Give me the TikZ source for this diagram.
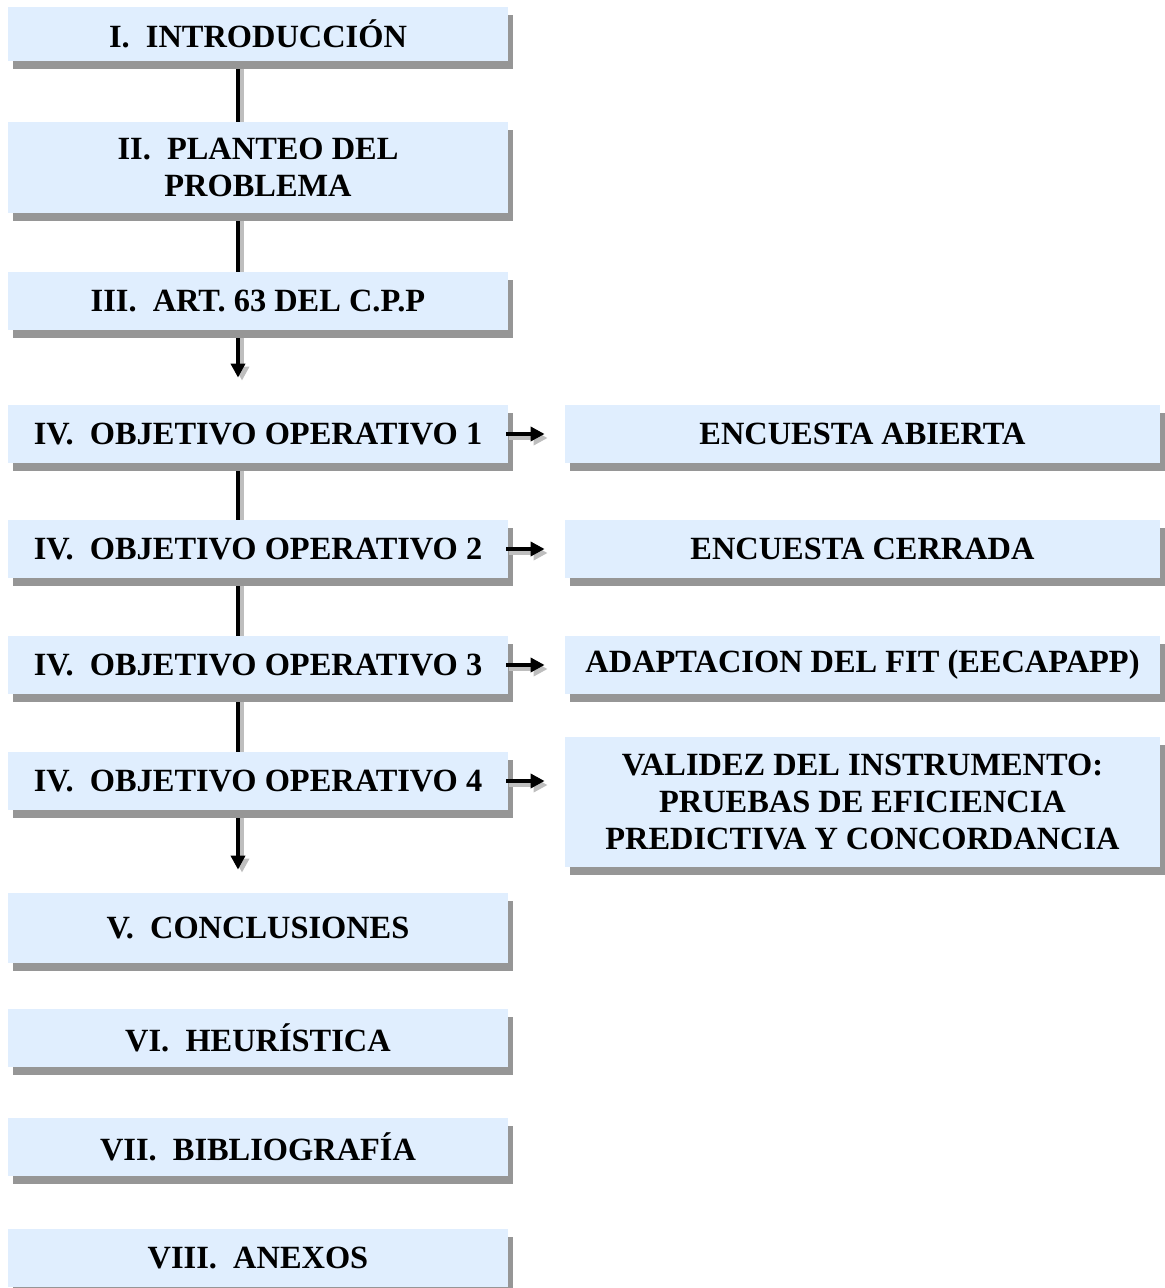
\documentclass[tikz,border=0pt]{standalone}
\usepackage{fontspec}
\setmainfont{Liberation Serif}
\usetikzlibrary{arrows.meta, shadows}
\definecolor{boxblue}{RGB}{224,238,254}
\definecolor{shadegray}{RGB}{150,150,150}
\definecolor{lineshade}{RGB}{190,190,190}

\begin{document}
\begin{tikzpicture}[x=0.5pt, y=-0.5pt,
    box/.style={fill=boxblue, inner sep=0pt, align=center,
        font=\fontsize{16.2}{18.5}\selectfont\bfseries,
        drop shadow={shadow xshift=2.5pt, shadow yshift=-4pt, fill=shadegray, opacity=1}},
    leftbox/.style={box, minimum width=250pt, minimum height=29pt},
    rightbox/.style={box, minimum width=297.5pt, minimum height=29pt},
    link/.style={line width=1.8pt, black},
    linkshade/.style={link, lineshade},
    tip/.style={-{Triangle[length=7pt, width=7pt]}}]

    \useasboundingbox (0,0) rectangle (1165,1288);

    % Draw the main column of chapters
    \node[leftbox, minimum height=27pt] (intro) at (258, 34) {I.\ \ INTRODUCCIÓN};
    \node[leftbox, minimum height=45.5pt] (planteo) at (258, 167.5) {II.\ \ PLANTEO DEL\\PROBLEMA};
    \node[leftbox] (art) at (258, 301) {III.\ \ ART. 63 DEL C.P.P};
    \node[leftbox] (obj1) at (258, 434) {IV.\ \ OBJETIVO OPERATIVO 1};
    \node[leftbox] (obj2) at (258, 549) {IV.\ \ OBJETIVO OPERATIVO 2};
    \node[leftbox] (obj3) at (258, 665) {IV.\ \ OBJETIVO OPERATIVO 3};
    \node[leftbox] (obj4) at (258, 781) {IV.\ \ OBJETIVO OPERATIVO 4};
    \node[leftbox, minimum height=35pt] (concl) at (258, 928) {V.\ \ CONCLUSIONES};
    \node[leftbox] (heur) at (258, 1037.5) {VI.\ \ HEURÍSTICA};
    \node[leftbox] (biblio) at (258, 1147) {VII.\ \ BIBLIOGRAFÍA};
    \node[leftbox] (anexos) at (258, 1258) {VIII.\ \ ANEXOS};

    % Draw the instruments on the right
    \node[rightbox] (encA) at (862.5, 434) {ENCUESTA ABIERTA};
    \node[rightbox] (encC) at (862.5, 549) {ENCUESTA CERRADA};
    \node[rightbox] (adapt) at (862.5, 665) {ADAPTACION DEL FIT (EECAPAPP)};
    \node[rightbox, minimum height=65pt] (valid) at (862.5, 802)
        {VALIDEZ DEL INSTRUMENTO:\\PRUEBAS DE EFICIENCIA\\PREDICTIVA Y CONCORDANCIA};

    % Draw the plain lines between chapters
    \foreach \a/\b in {intro/planteo, planteo/art, obj1/obj2, obj2/obj3, obj3/obj4} {
        \draw[linkshade] ([xshift=-8pt, yshift=-4pt]\a.south) -- ([xshift=-8pt]\b.north);
        \draw[link] ([xshift=-10pt, yshift=-4pt]\a.south) -- ([xshift=-10pt]\b.north);
    }

    % Draw the downward arrows
    \foreach \a/\b/\gap in {art/obj1/13.5pt, obj4/concl/11.5pt} {
        \draw[linkshade, tip] ([xshift=-8pt, yshift=-4pt]\a.south) -- ([xshift=-8pt, yshift=\gap-1.5pt]\b.north);
        \draw[link, tip] ([xshift=-10pt, yshift=-4pt]\a.south) -- ([xshift=-10pt, yshift=\gap]\b.north);
    }

    % Draw the arrows from the objectives to the instruments
    \foreach \a/\b in {obj1/encA, obj2/encC, obj3/adapt, obj4/valid} {
        \draw[linkshade, tip] ([xshift=0.5pt, yshift=-2pt]\a.east) -- ([xshift=-8.5pt, yshift=-2pt]\a.east -| \b.west);
        \draw[link, tip] ([xshift=-1pt]\a.east) -- ([xshift=-10pt]\a.east -| \b.west);
    }

\end{tikzpicture}
\end{document}
